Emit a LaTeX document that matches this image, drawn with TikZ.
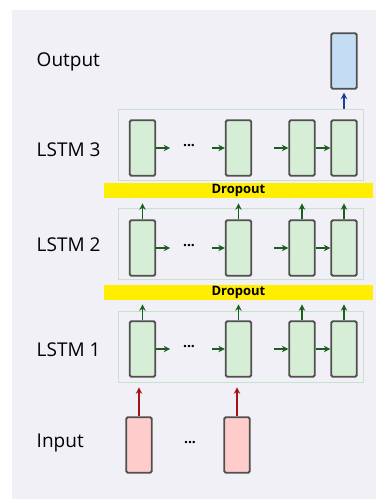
\documentclass[tikz,border=0pt]{standalone}
\usepackage{fontspec}
\setmainfont{Open Sans}
\usetikzlibrary{calc,arrows.meta}

\definecolor{panel}{HTML}{F0F0F6}
\definecolor{cellgreen}{HTML}{D6EDD6}
\definecolor{cellline}{HTML}{505050}
\definecolor{groupline}{HTML}{C8E0CC}
\definecolor{arrowgreen}{HTML}{1B5E20}
\definecolor{outblue}{HTML}{C5DCF5}
\definecolor{arrowblue}{HTML}{1F3C99}
\definecolor{inred}{HTML}{FFCCCC}
\definecolor{arrowred}{HTML}{A31515}
\definecolor{dropyellow}{HTML}{FFEE00}

\begin{document}
\begin{tikzpicture}[x=1pt,y=1pt,>={Stealth[length=6.5pt,width=6.5pt]},thick,
    cell/.style={draw=cellline,fill=cellgreen,line width=1.8pt,rounded corners=1.5pt,minimum width=25.5pt,minimum height=55.5pt,inner sep=0pt},
    group/.style={draw=groupline,line width=0.8pt,minimum width=245pt,minimum height=71pt,inner sep=0pt},
    dropbar/.style={fill=dropyellow,minimum width=269pt,minimum height=15pt,inner sep=0pt,font=\fontsize{13}{14}\selectfont\bfseries},
    layer label/.style={anchor=west,font=\fontsize{19}{22}\selectfont},
    dots/.style={font=\fontsize{14}{14}\selectfont\bfseries},
    link/.style={draw=arrowgreen,line width=1.4pt}]

    \useasboundingbox (0,0) rectangle (376,499);
    \fill[panel] (12,0) rectangle (376,489);

    % labels
    \node (lout) [layer label] at (33,437){Output};
    \node (lab3) [layer label] at (33,349){LSTM 3};
    \node (lab2) [layer label] at (33,254){LSTM 2};
    \node (lab1) [layer label] at (33,149){LSTM 1};
    \node (lin) [layer label] at (33,56){Input};

    % dropout layers
    \node (drop1) [dropbar] at (238.5,308.5){Dropout};
    \node (drop2) [dropbar] at (238.5,206.5){Dropout};

    % LSTM 3
    \node (g3) [group] at (240.5,354.5){};
    \node (l31) [cell] at (142.5,351){};
    \node (l32) [cell] at (238.5,351){};
    \node (l33) [cell] at (302,351){};
    \node (l34) [cell] at (344,351){};
    \node (d3) [dots] at (189,353){...};

    % LSTM 2
    \node (g2) [group] at (240.5,255){};
    \node (l21) [cell] at (142.5,251){};
    \node (l22) [cell] at (238.5,251){};
    \node (l23) [cell] at (302,251){};
    \node (l24) [cell] at (344,251){};
    \node (d2) [dots] at (189,253){...};

    % LSTM 1
    \node (g1) [group] at (240.5,152){};
    \node (l11) [cell] at (142.5,150){};
    \node (l12) [cell] at (238.5,150){};
    \node (l13) [cell] at (302,150){};
    \node (l14) [cell] at (344,150){};
    \node (d1) [dots] at (189,152){...};

    % output and input
    \node (out) [cell,fill=outblue] at (344,438){};
    \node (in1) [cell,fill=inred] at (139,54){};
    \node (in2) [cell,fill=inred] at (237,54){};
    \node (din) [dots] at (190,56){...};

    % free ends of the connectors
    \coordinate (a31) at ($(l31.east)+(14,0)$);
    \coordinate (b32) at ($(l32.west)+(-13,0)$);
    \coordinate (b33) at ($(l33.west)+(-14,0)$);
    \coordinate (a21) at ($(l21.east)+(14,0)$);
    \coordinate (b22) at ($(l22.west)+(-13,0)$);
    \coordinate (b23) at ($(l23.west)+(-14,0)$);
    \coordinate (a11) at ($(l11.east)+(14,0)$);
    \coordinate (b12) at ($(l12.west)+(-13,0)$);
    \coordinate (b13) at ($(l13.west)+(-14,0)$);
    \coordinate (t34) at (l34 |- g3.north);
    \foreach \n in {21,22,23,24,11,12,13,14}
        \coordinate (u\n) at ($(l\n.north)+(0,16)$);
    \coordinate (r1) at ($(in1.north)+(0,29)$);
    \coordinate (r2) at ($(in2.north)+(0,29)$);

    \path[->,every edge/.append style={link}]
        (l31) edge (a31)
        (b32) edge (l32)
        (b33) edge (l33)
        (l33) edge (l34)

        (l21) edge (a21)
        (b22) edge (l22)
        (b23) edge (l23)
        (l23) edge (l24)

        (l11) edge (a11)
        (b12) edge (l12)
        (b13) edge (l13)
        (l13) edge (l14)

        (l21.north) edge (u21)
        (l22.north) edge (u22)
        (l23.north) edge (u23)
        (l24.north) edge (u24)
        (l11.north) edge (u11)
        (l12.north) edge (u12)
        (l13.north) edge (u13)
        (l14.north) edge (u14)
    ;
    \path[->,line width=1.4pt]
        (t34) edge[draw=arrowblue,shorten >=3pt] (out)
        (in1) edge[draw=arrowred] (r1)
        (in2) edge[draw=arrowred] (r2)
    ;
\end{tikzpicture}
\end{document}
